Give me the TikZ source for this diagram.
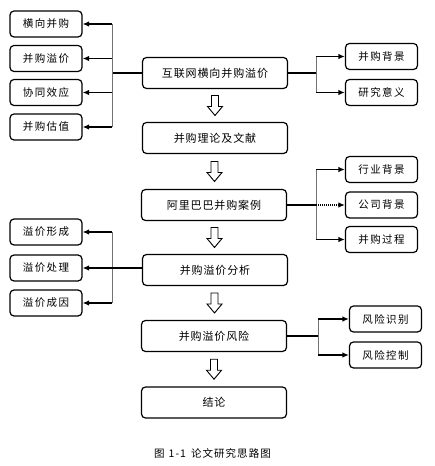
\documentclass[tikz,border=0pt]{standalone}
\usepackage{fontspec}
\newfontfamily\cjk[LetterSpace=8]{Noto Sans CJK SC}
\newfontfamily\cjkside[LetterSpace=14]{Noto Sans CJK SC}
\newfontfamily\cjkcap[LetterSpace=10]{Noto Sans CJK SC}
\usetikzlibrary{arrows.meta,calc}
\begin{document}
\begin{tikzpicture}[x=1pt,y=1pt,
  mainbox/.style={draw, line width=1.2pt, rounded corners=4pt, minimum width=145pt, minimum height=31pt, inner sep=0pt, font=\cjk\fontsize{11}{13}\selectfont},
  sidebox/.style={draw, line width=1.2pt, rounded corners=4pt, minimum width=72pt, minimum height=26pt, inner sep=0pt, font=\cjkside\fontsize{10.5}{12}\selectfont},
  conn/.style={line width=1.5pt, -{Latex[length=6.5pt,width=5.5pt]}},
  plain/.style={line width=1.5pt},
  vline/.style={line width=0.8pt, draw=black!55},
  hollow/.pic={\draw[line width=0.9pt] (-3.5,10) -- (-3.5,-1) -- (-7.5,-1) -- (0,-10) -- (7.5,-1) -- (3.5,-1) -- (3.5,10) -- cycle;}
]
\useasboundingbox (0,0) rectangle (434,466);
% main column
\node[mainbox] (b1) at (215,393) {互联网横向并购溢价};
\node[mainbox] (b2) at (215,328) {并购理论及文献};
\node[mainbox] (b3) at (214,261) {阿里巴巴并购案例};
\node[mainbox] (b4) at (215,196) {并购溢价分析};
\node[mainbox] (b5) at (214,130) {并购溢价风险};
\node[mainbox] (b6) at (214,63.5) {结论};
% hollow arrows
\pic at ($(b1.south)!0.5!(b2.north)$) {hollow};
\pic at ($(b2.south)!0.5!(b3.north)$) {hollow};
\pic at ($(b3.south)!0.5!(b4.north)$) {hollow};
\pic at ($(b4.south)!0.5!(b5.north)$) {hollow};
\pic at ($(b5.south)!0.5!(b6.north)$) {hollow};
% left top
\node[sidebox] (l1) at (46,442) {横向并购};
\node[sidebox] (l2) at (46,407.5) {并购溢价};
\node[sidebox] (l3) at (46,373.5) {协同效应};
\node[sidebox] (l4) at (46,339) {并购估值};
\coordinate (j1) at (112,393);
\draw[plain] (b1.west) -- (j1);
\draw[vline] (j1 |- l1.east) -- (j1 |- l4.east);
\foreach \n in {l1,l2,l3,l4} \draw[conn] (j1 |- \n.east) -- (\n.east);
% right top
\node[sidebox] (r1) at (381.5,409.5) {并购背景};
\node[sidebox] (r2) at (381.5,373.5) {研究意义};
\coordinate (j2) at (316,393);
\draw[plain] (b1.east) -- (j2);
\draw[vline] (j2 |- r1.west) -- (j2 |- r2.west);
\foreach \n in {r1,r2} \draw[conn] (j2 |- \n.west) -- (\n.west);
% right middle
\node[sidebox] (r3) at (381.5,296.5) {行业背景};
\node[sidebox] (r4) at (381.5,261) {公司背景};
\node[sidebox] (r5) at (381.5,226.5) {并购过程};
\coordinate (j3) at (316,261);
\draw[plain] (b3.east) -- (j3);
\draw[vline] (j3 |- r3.west) -- (j3 |- r5.west);
\draw[conn] (j3 |- r3.west) -- (r3.west);
\draw[conn, dash pattern=on 1.2pt off 0.8pt] (j3) -- (r4.west);
\draw[conn] (j3 |- r5.west) -- (r5.west);
% left middle
\node[sidebox] (l5) at (46,234) {溢价形成};
\node[sidebox] (l6) at (46,198) {溢价处理};
\node[sidebox] (l7) at (46,163) {溢价成因};
\coordinate (j4) at (112,198);
\draw[vline] (j4 |- l5.east) -- (j4 |- l7.east);
\draw[conn] (b4.west |- l6.east) -- (l6.east);
\draw[conn] (j4 |- l5.east) -- (l5.east);
\draw[conn] (j4 |- l7.east) -- (l7.east);
% right bottom
\node[sidebox] (r6) at (385.5,147) {风险识别};
\node[sidebox] (r7) at (385.5,111) {风险控制};
\coordinate (j5) at (318,130);
\draw[plain] (b5.east) -- (j5);
\draw[vline] (j5 |- r6.west) -- (j5 |- r7.west);
\foreach \n in {r6,r7} \draw[conn] (j5 |- \n.west) -- (\n.west);
% caption
\node[font=\cjkcap\fontsize{10.5}{12}\selectfont] (cap) at (212.5,13) {图\hspace{4pt}1-1\hspace{5pt}论文研究思路图};
\end{tikzpicture}
\end{document}
